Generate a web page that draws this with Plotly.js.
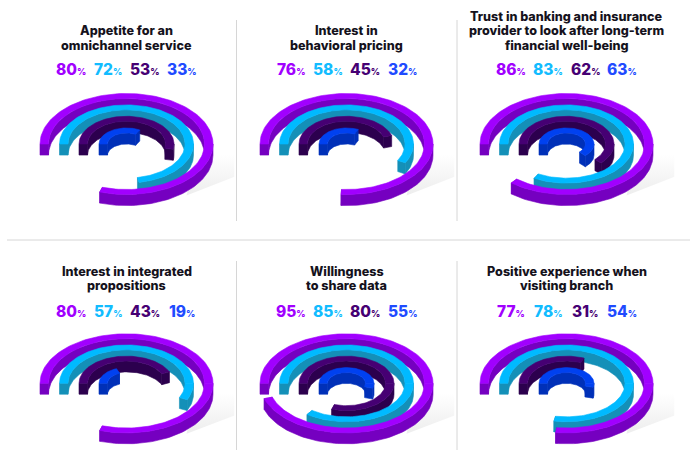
<!DOCTYPE html>
<html>
<head>
<meta charset="utf-8">
<script src="https://cdn.plot.ly/plotly-3.0.1.min.js"></script>
<style>html,body{margin:0;padding:0;background:#fff}#chart{width:697px;height:454px}</style>
</head>
<body>
<div id="chart"></div>
<script>
// Survey measures, one panel each
var titles = [
  ["Appetite for an", "omnichannel service"],
  ["Interest in", "behavioral pricing"],
  ["Trust in banking and insurance", "provider to look after long-term", "financial well-being"],
  ["Interest in integrated", "propositions"],
  ["Willingness", "to share data"],
  ["Positive experience when", "visiting branch"]
];

// Percentages for the four rings, outermost ring first
var purpleValues = [80, 76, 86, 80, 95, 77];
var cyanValues   = [72, 58, 83, 57, 85, 78];
var indigoValues = [53, 45, 62, 43, 80, 31];
var blueValues   = [33, 32, 63, 19, 55, 54];

var seriesValues = [purpleValues, cyanValues, indigoValues, blueValues];
var topColors  = ["#A100FF", "#00BAFF", "#460073", "#0041F0"];
var wallColors = ["#7500C0", "#1490B8", "#2C004E", "#0030B8"];
var labelColors = ["#A100FF", "#12BCFF", "#460073", "#1F4BFF"];

// Ring geometry in axis units (outer and inner radius, extrusion depth)
var outerRadii = [86.5, 67, 47.5, 27.5];
var innerRadii = [78, 58.5, 39, 19];
var depth = 19;

var W = 697, H = 454;
var centersX = [126.5, 346.5, 566.5];
var centersY = [144, 384.5];
var squash = 50.5 / 86.5;
var labelOffsets = [-55.5, -18.5, 18.5, 55.5];
var titleBottoms = [45, 285];
var labelMiddles = [70, 311.5];
var textFamily = "Inter, 'Liberation Sans', sans-serif";

function arc(r, a, b, drop) {
  var xs = [], ys = [];
  var n = Math.max(2, Math.ceil(Math.abs(b - a) / 2));
  for (var i = 0; i <= n; i++) {
    var t = (a + (b - a) * i / n) * Math.PI / 180;
    xs.push(-r * Math.cos(t));
    ys.push(r * Math.sin(t) - drop);
  }
  return {x: xs, y: ys};
}

function band(r1, a1, b1, d1, r2, a2, b2, d2) {
  var p = arc(r1, a1, b1, d1), q = arc(r2, a2, b2, d2);
  return {x: p.x.concat(q.x, [p.x[0]]), y: p.y.concat(q.y, [p.y[0]])};
}

function poly(shape, color, axX, axY) {
  return {
    type: "scatter", mode: "lines", x: shape.x, y: shape.y, xaxis: axX, yaxis: axY,
    fill: "toself", fillcolor: color, line: {color: color, width: 0.6},
    hoverinfo: "skip", showlegend: false
  };
}

function cap(R, r, angle) {
  var t = angle * Math.PI / 180, c = -Math.cos(t), s = Math.sin(t);
  return {
    x: [R * c, r * c, r * c, R * c, R * c],
    y: [R * s, r * s, r * s - depth, R * s - depth, R * s]
  };
}

var data = [], layout = {
  width: W, height: H, margin: {l: 0, r: 0, t: 0, b: 0},
  paper_bgcolor: "#fff", plot_bgcolor: "rgba(0,0,0,0)", showlegend: false,
  shapes: [], annotations: []
};

titles.forEach(function (lines, p) {
  var col = p % 3, row = Math.floor(p / 3);
  var cx = centersX[col], cy = centersY[row];
  var suffix = p === 0 ? "" : String(p + 1);
  var axX = "x" + suffix, axY = "y" + suffix;
  var halfW = 108, above = 62, below = 72;

  layout["xaxis" + suffix] = {
    domain: [(cx - halfW) / W, (cx + halfW) / W], range: [-halfW, halfW],
    visible: false, fixedrange: true, anchor: axY
  };
  layout["yaxis" + suffix] = {
    domain: [1 - (cy + below) / H, 1 - (cy - above) / H],
    range: [-below / squash, above / squash],
    visible: false, fixedrange: true, anchor: axX
  };

  // Soft floor shadow to the right of the rings, fading upward
  data.push({
    type: "scatter", mode: "lines", xaxis: axX, yaxis: axY,
    x: [60, 108, 108, 70, 60], y: [-88, -56, -18, -18, -88],
    fill: "toself", line: {width: 0},
    fillgradient: {type: "vertical", colorscale: [[0, "#ededed"], [1, "#ffffff"]]},
    hoverinfo: "skip", showlegend: false
  });

  var ends = seriesValues.map(function (s) { return s[p] * 3.6; });

  // Far half: outermost ring first so nearer surfaces cover the back walls
  for (var i = 0; i < 4; i++) {
    var e = Math.min(ends[i], 180);
    data.push(poly(band(innerRadii[i], 0, e, 0, innerRadii[i], e, 0, depth), wallColors[i], axX, axY));
    data.push(poly(cap(outerRadii[i], innerRadii[i], 0), wallColors[i], axX, axY));
    if (ends[i] <= 180) {
      data.push(poly(cap(outerRadii[i], innerRadii[i], ends[i]), wallColors[i], axX, axY));
    }
    data.push(poly(band(outerRadii[i], 0, e, 0, innerRadii[i], e, 0, 0), topColors[i], axX, axY));
  }

  // Near half: innermost ring first so outer surfaces cover the front walls
  for (var j = 3; j >= 0; j--) {
    if (ends[j] > 180) {
      data.push(poly(band(outerRadii[j], 180, ends[j], 0, outerRadii[j], ends[j], 180, depth), wallColors[j], axX, axY));
      data.push(poly(cap(outerRadii[j], innerRadii[j], ends[j]), wallColors[j], axX, axY));
      data.push(poly(band(outerRadii[j], 180, ends[j], 0, innerRadii[j], ends[j], 180, 0), topColors[j], axX, axY));
    }
  }

  // Title lines, stacked upward from the last one
  lines.forEach(function (line, k) {
    var y = titleBottoms[row] - (lines.length - 1 - k) * 14;
    layout.annotations.push({
      xref: "paper", yref: "paper", x: cx / W, y: 1 - y / H,
      xanchor: "center", yanchor: "middle", showarrow: false,
      text: line,
      font: {family: textFamily, size: 12.6, weight: 800, color: "#15121c"}
    });
  });

  // Percentage labels
  seriesValues.forEach(function (s, i) {
    layout.annotations.push({
      xref: "paper", yref: "paper", x: (cx + labelOffsets[i]) / W, y: 1 - labelMiddles[row] / H,
      xanchor: "center", yanchor: "middle", showarrow: false,
      text: s[p] + '<span style="font-size:9px">%</span>',
      font: {family: textFamily, size: 15.5, weight: 800, color: labelColors[i]}
    });
  });
});

// Panel dividers
function divider(x0, y0, x1, y1) {
  layout.shapes.push({
    type: "line", xref: "paper", yref: "paper", layer: "above",
    x0: x0 / W, x1: x1 / W, y0: 1 - y0 / H, y1: 1 - y1 / H,
    line: {color: "#d6d6d6", width: 1}
  });
}
divider(236.5, 20, 236.5, 221);
divider(457, 20, 457, 221);
divider(236.5, 261, 236.5, 450);
divider(457, 261, 457, 450);
divider(7, 240, 690, 240);

Plotly.newPlot("chart", data, layout, {staticPlot: true, displayModeBar: false});
</script>
</body>
</html>
